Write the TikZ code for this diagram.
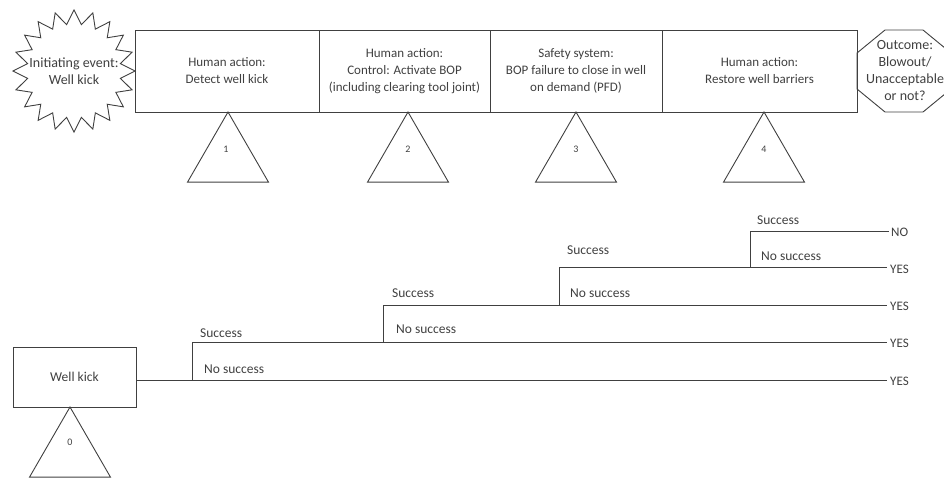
\documentclass[tikz,border=0pt]{standalone}
\usepackage{fontspec}
\setmainfont{Carlito}
\usetikzlibrary{shapes.geometric}
\definecolor{ink}{HTML}{404040}
\begin{document}
\begin{tikzpicture}[x=1pt,y=-1pt,
  line/.style={draw=ink, line width=0.9pt},
  box/.style={line, rectangle, inner sep=0pt, outer sep=0pt, minimum height=82pt,
    text=ink, align=center, font=\fontsize{13}{17}\selectfont},
  tri/.style={line, regular polygon, regular polygon sides=3, minimum size=93.5pt,
    inner sep=0pt, outer sep=0pt},
  num/.style={text=ink, font=\fontsize{10}{12}\selectfont, inner sep=0pt},
  big/.style={text=ink, align=center, font=\fontsize{14}{17}\selectfont, inner sep=0pt},
  lab/.style={text=ink, font=\fontsize{13.5}{16}\selectfont, inner sep=0pt, anchor=west},
  endlab/.style={text=ink, font=\fontsize{13}{16}\selectfont, inner sep=0pt, anchor=west}
]
\useasboundingbox (0,0) rectangle (944,477);
\clip (0,0) rectangle (944,477);

% initiating event: 20-point starburst
\coordinate (ie) at (74,71);
\draw[line, line join=miter, shift={(ie)}] (0:61)
  \foreach \k in {0,...,19} { -- ({\k*18+9}:47) -- ({\k*18+18}:61) } -- cycle;
\node[big] (ietext) at (ie) {Initiating event:\\Well kick};

% event headings
\node[box, minimum width=184pt] (b1) at (227,71) {Human action:\\Detect well kick};
\node[box, minimum width=171pt] (b2) at (404.5,71) {Human action:\\Control: Activate BOP\\(including clearing tool joint)};
\node[box, minimum width=172pt] (b3) at (576,71) {Safety system:\\BOP failure to close in well\\on demand (PFD)};
\node[box, minimum width=195pt] (b4) at (759.5,71) {Human action:\\Restore well barriers};

% outcome octagon
\draw[line] (885,30) -- (923,30) -- (951,53) -- (951,89) -- (923,112)
  -- (885,112) -- (857,89) -- (857,53) -- cycle;
\node[big] (oc) at (905,71) {Outcome:\\Blowout/\\Unacceptable\\or not?};

% numbered triangles
\node[tri, anchor=corner 1] (t1) at (228,112) {};
\node[tri, anchor=corner 1] (t2) at (408,112) {};
\node[tri, anchor=corner 1] (t3) at (576,112) {};
\node[tri, anchor=corner 1] (t4) at (764,112) {};
\node[num] (n1) at (226,149) {1};
\node[num] (n2) at (408,149) {2};
\node[num] (n3) at (576,149) {3};
\node[num] (n4) at (764,149) {4};

% initiating event box of the tree
\node[box, minimum width=123pt, minimum height=60pt,
      font=\fontsize{13.5}{16}\selectfont] (wk) at (74.5,377) {Well kick};
\node[tri, anchor=corner 1] (t0) at (70,407) {};
\node[num] (n0) at (70,442) {0};

% tree junctions and end points
\coordinate (s0) at (136,380);
\coordinate (j1) at (192,380);
\coordinate (j1u) at (192,342);
\coordinate (j2) at (383,342);
\coordinate (j2u) at (383,305);
\coordinate (j3) at (559,305);
\coordinate (j3u) at (559,267);
\coordinate (j4) at (750,267);
\coordinate (j4u) at (750,231);
\node[endlab] (e0) at (890,381) {YES};
\node[endlab] (e1) at (890,343) {YES};
\node[endlab] (e2) at (890,306) {YES};
\node[endlab] (e3) at (890,269) {YES};
\node[endlab] (e4) at (891,232) {NO};

\draw[line] (s0) -- ([xshift=-3pt]e0.west |- s0);
\draw[line] (j1) -- (j1u) -- ([xshift=-3pt]e1.west |- j1u);
\draw[line] (j2) -- (j2u) -- ([xshift=-3pt]e2.west |- j2u);
\draw[line] (j3) -- (j3u) -- ([xshift=-3pt]e3.west |- j3u);
\draw[line] (j4) -- (j4u) -- ([xshift=-2pt]e4.west |- j4u);

% branch labels
\node[lab] (s1) at (200,333) {Success};
\node[lab] (f1) at (204,369) {No success};
\node[lab] (s2) at (392,293) {Success};
\node[lab] (f2) at (396,329) {No success};
\node[lab] (s3) at (567,250) {Success};
\node[lab] (f3) at (570,293) {No success};
\node[lab] (s4) at (757,220) {Success};
\node[lab] (f4) at (761,256) {No success};
\end{tikzpicture}
\end{document}
